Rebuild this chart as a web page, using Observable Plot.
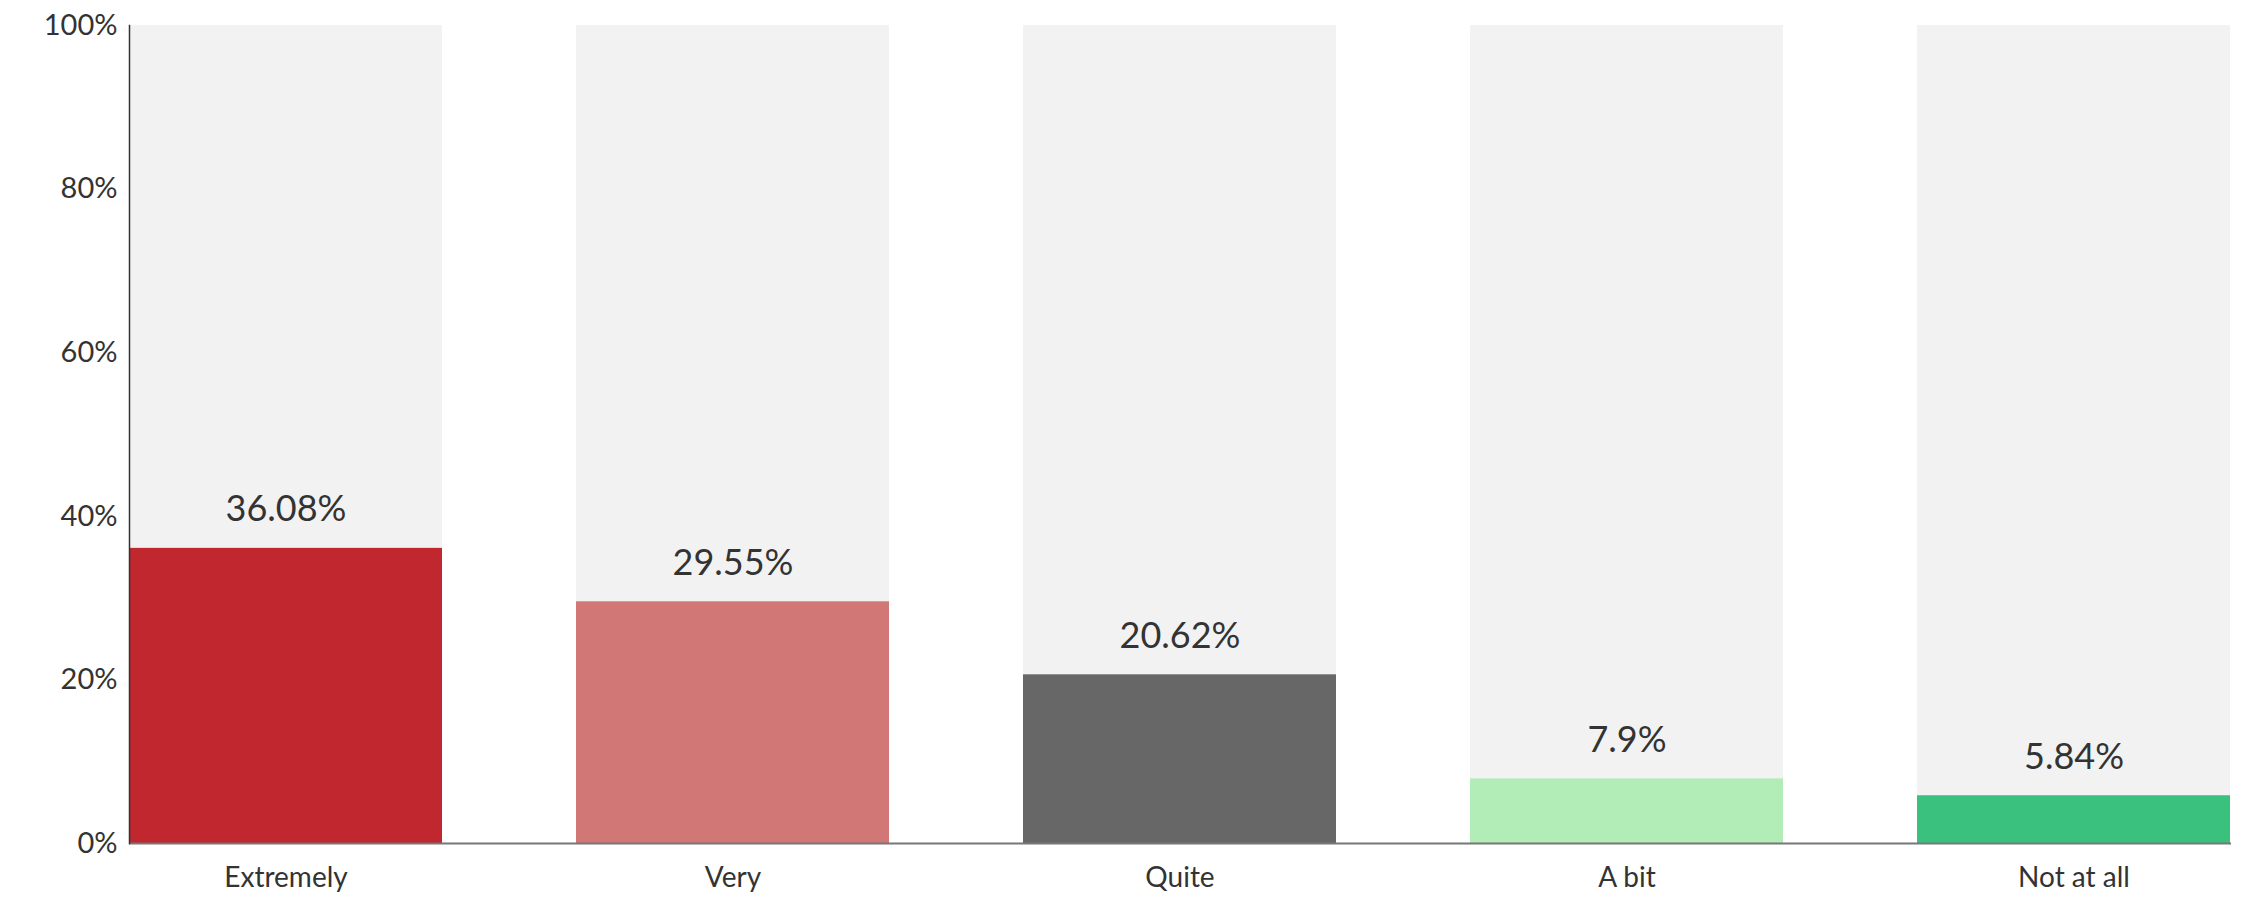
<!DOCTYPE html>
<html>
<head>
<meta charset="utf-8">
<script src="https://cdn.jsdelivr.net/npm/d3@7"></script>
<script src="https://cdn.jsdelivr.net/npm/@observablehq/plot@0.6"></script>
<style>
  html, body { margin: 0; padding: 0; background: #fff; }
  #chart svg { display: block; }
</style>
</head>
<body>
<div id="chart"></div>
<script>
const categories = ["Extremely", "Very", "Quite", "A bit", "Not at all"];
const values = [36.08, 29.55, 20.62, 7.9, 5.84];
const colors = ["#c0272f", "#d17775", "#676767", "#b2edb8", "#3ac17e"];
const yTicks = [0, 20, 40, 60, 80, 100];

const data = categories.map((c, i) => ({category: c, value: values[i], color: colors[i]}));

const chart = Plot.plot({
  width: 2254,
  height: 902,
  marginLeft: 129,
  marginRight: 23,
  marginTop: 25,
  marginBottom: 59,
  style: {fontFamily: "Lato, 'Open Sans', sans-serif", background: "#fff"},
  x: {domain: categories, paddingInner: 0.3, paddingOuter: 0, align: 0, label: null},
  y: {domain: [0, 100], label: null},
  marks: [
    Plot.barY(data, {x: "category", y: 100, fill: "#f2f2f2"}),
    Plot.barY(data, {x: "category", y: "value", fill: "color"}),
    Plot.text(data, {x: "category", y: "value", text: d => d.value + "%", dy: -27, fontSize: 36, fill: "#333", lineAnchor: "bottom"}),
    Plot.axisY({ticks: yTicks, tickFormat: d => d + "%", tickSize: 0, tickPadding: 12, fontSize: 29, fill: "#333"}),
    Plot.axisX({tickSize: 0, tickPadding: 24, fontSize: 28, fill: "#333"}),
    Plot.ruleY([0], {stroke: "#777", strokeWidth: 2}),
    Plot.frame({anchor: "left", stroke: "#333", strokeWidth: 1.5})
  ]
});
document.getElementById("chart").appendChild(chart);
</script>
</body>
</html>
